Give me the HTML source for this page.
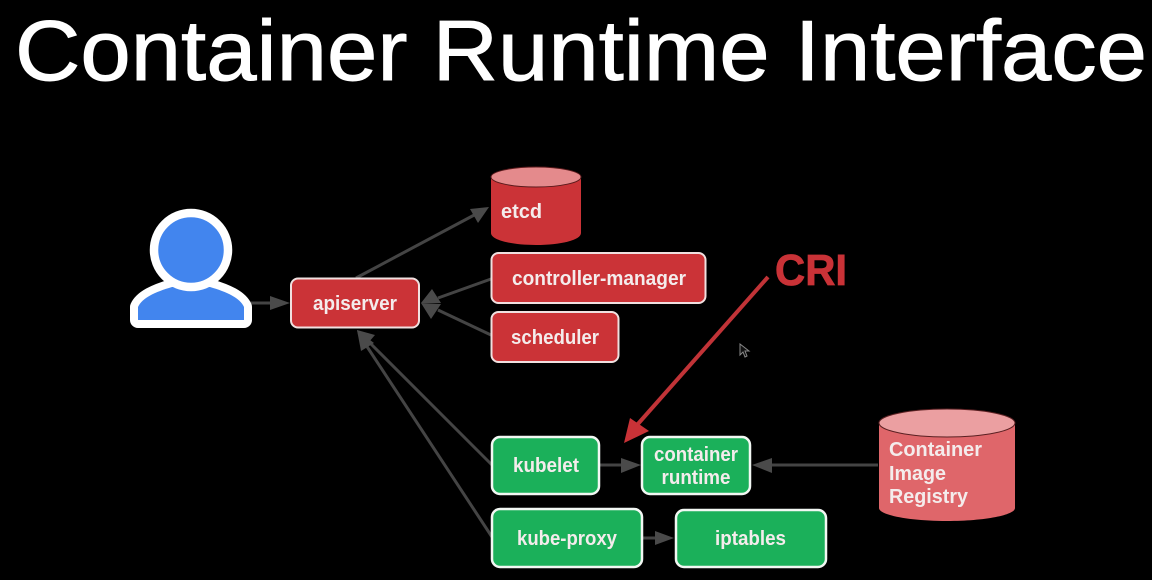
<!DOCTYPE html>
<html>
<head>
<meta charset="utf-8">
<style>
html,body{margin:0;padding:0;background:#000;width:1152px;height:580px;overflow:hidden}
svg{display:block}
text{font-family:"Liberation Sans",sans-serif}
.n{font-size:20px;font-weight:bold;fill:#f4ecec}
.box{stroke:#f0e0e0;stroke-width:2}
.g{stroke:#f2f7f3;stroke-width:2.5}
.l{stroke:#444;stroke-width:3;fill:none}
.h{fill:#4a4a4a}
</style>
</head>
<body>
<svg width="1152" height="580" viewBox="0 0 1152 580" xmlns="http://www.w3.org/2000/svg">
<rect width="1152" height="580" fill="#000"/>
<text x="15" y="80" font-size="85" fill="#fff" stroke="#fff" stroke-width="0.9" textLength="1132" lengthAdjust="spacingAndGlyphs">Container Runtime Interface</text>

<!-- connectors -->
<path class="l" d="M248 303H272"/><polygon class="h" points="270,296 290,303 270,310"/>
<path class="l" d="M356 278L478 213"/><polygon class="h" points="489,207 470,209 478,223"/>
<path class="l" d="M491 279L438 298"/><polygon class="h" points="421,303 432,289 441,303"/>
<path class="l" d="M491 335L438 310"/><polygon class="h" points="421,303 441,304 431,319"/>
<path class="l" d="M492 465L368 341"/><polygon class="h" points="357,330 375,335 362,350"/>
<path class="l" d="M492 537L364 342"/><polygon class="h" points="357,330 374,343 361,351"/>
<path class="l" d="M600 465H625"/><polygon class="h" points="621,458 641,465 621,473"/>
<path class="l" d="M878 465H770"/><polygon class="h" points="772,458 752,465 772,473"/>
<path class="l" d="M643 538H658"/><polygon class="h" points="655,531 674,538 655,545"/>

<!-- user -->
<path d="M138 320V307C142 298 155 292 172 287H210C227 292 240 298 244 307V320Z" fill="#4285ee" stroke="#fff" stroke-width="16" stroke-linejoin="round" paint-order="stroke"/>
<circle cx="191" cy="250" r="37" fill="#4285ee" stroke="#fff" stroke-width="8.5"/>

<!-- apiserver -->
<rect class="box" x="291" y="278.500" width="128" height="49" rx="7" fill="#cb3337"/>
<text class="n" x="355" y="310" text-anchor="middle" textLength="84" lengthAdjust="spacingAndGlyphs">apiserver</text>

<!-- etcd -->
<path d="M491 177V233C491 240 511 245 536 245C561 245 581 240 581 233V177Z" fill="#cb3337"/>
<ellipse cx="536" cy="177" rx="45" ry="10" fill="#e48a8c" stroke="#5a1a1c" stroke-width="1"/>
<text class="n" x="501" y="218" textLength="41" lengthAdjust="spacingAndGlyphs">etcd</text>

<rect class="box" x="491.500" y="253" width="214" height="50" rx="7" fill="#cb3337"/>
<text class="n" x="512" y="285" textLength="174" lengthAdjust="spacingAndGlyphs">controller-manager</text>
<rect class="box" x="491.500" y="312" width="127" height="50" rx="7" fill="#cb3337"/>
<text class="n" x="511" y="344" textLength="88" lengthAdjust="spacingAndGlyphs">scheduler</text>

<!-- green boxes -->
<rect class="g" x="492" y="437" width="107" height="57" rx="8" fill="#1bb05a"/>
<text class="n" x="513" y="472" textLength="66" lengthAdjust="spacingAndGlyphs">kubelet</text>
<rect class="g" x="642" y="437" width="108" height="57" rx="8" fill="#1bb05a"/>
<text class="n" x="696" y="461" text-anchor="middle" textLength="84" lengthAdjust="spacingAndGlyphs">container</text>
<text class="n" x="696" y="484" text-anchor="middle" textLength="69" lengthAdjust="spacingAndGlyphs">runtime</text>
<rect class="g" x="492" y="509" width="150" height="58" rx="8" fill="#1bb05a"/>
<text class="n" x="517" y="545" textLength="100" lengthAdjust="spacingAndGlyphs">kube-proxy</text>
<rect class="g" x="676" y="510" width="150" height="57" rx="8" fill="#1bb05a"/>
<text class="n" x="715" y="545" textLength="71" lengthAdjust="spacingAndGlyphs">iptables</text>

<!-- registry -->
<path d="M879 422V508C879 515 909 521 947 521C985 521 1015 515 1015 508V422Z" fill="#df666a"/>
<ellipse cx="947" cy="423" rx="68" ry="14" fill="#eb9fa1" stroke="#5a2022" stroke-width="1"/>
<text class="n" x="889" y="456" textLength="93" lengthAdjust="spacingAndGlyphs">Container</text>
<text class="n" x="889" y="480" textLength="57" lengthAdjust="spacingAndGlyphs">Image</text>
<text class="n" x="889" y="503" textLength="79" lengthAdjust="spacingAndGlyphs">Registry</text>

<!-- CRI -->
<path d="M768 277L637 425" stroke="#c13337" stroke-width="4" fill="none"/>
<polygon points="624,443 630,418 649,431" fill="#c93237"/>
<text x="775" y="285" font-size="44" font-weight="bold" fill="#c93237" stroke="#c93237" stroke-width="0.8" textLength="72" lengthAdjust="spacingAndGlyphs">CRI</text>

<!-- cursor -->
<path d="M740 344V355L743 352L745 357L747 356L745 351H749Z" fill="#111" stroke="#888" stroke-width="1"/>
</svg>
</body>
</html>
